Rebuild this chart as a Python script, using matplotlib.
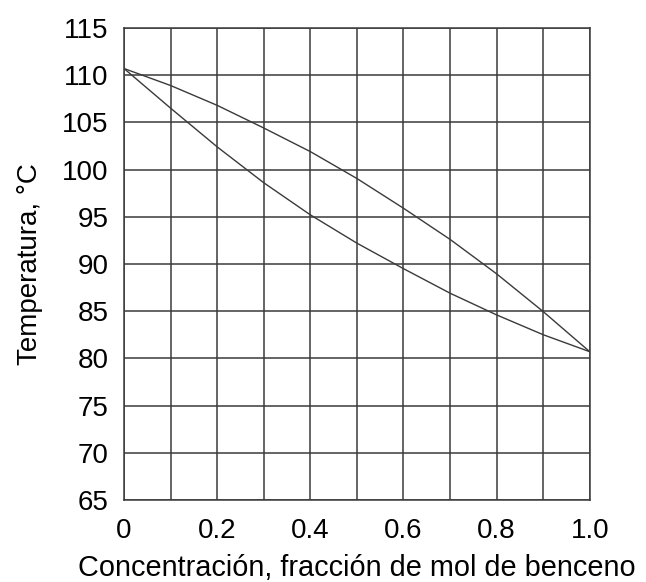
import matplotlib
matplotlib.use('Agg')
import matplotlib.pyplot as plt

plt.rcParams['font.family'] = ['Liberation Sans', 'DejaVu Sans']

# fraccion molar de benceno
x = [0.0, 0.1, 0.2, 0.3, 0.4, 0.5, 0.6, 0.7, 0.8, 0.9, 1.0]
# curva inferior (liquido saturado)
t_liq = [110.7, 106.5, 102.4, 98.6, 95.2, 92.2, 89.5, 86.9, 84.6, 82.5, 80.7]
# curva superior (vapor saturado)
t_vap = [110.7, 108.9, 106.8, 104.4, 101.9, 99.05, 95.9, 92.6, 88.95, 84.95, 80.7]

xticks = [0, 0.2, 0.4, 0.6, 0.8, 1.0]
xticklabels = ['0', '0.2', '0.4', '0.6', '0.8', '1.0']
yticks = list(range(65, 116, 5))

fig = plt.figure(figsize=(6.46, 5.82), dpi=100)
ax = fig.add_axes([0.192, 0.141, 0.721, 0.811])

for xv in [i / 10 for i in range(11)]:
    ax.axvline(xv, color='#3a3a3a', lw=1.1, zorder=1)
for yv in yticks:
    ax.axhline(yv, color='#3a3a3a', lw=1.1, zorder=1)

ax.plot(x, t_liq, color='#3a3a3a', lw=1.0, zorder=2)
ax.plot(x, t_vap, color='#3a3a3a', lw=1.0, zorder=2)

ax.set_xlim(0, 1.0)
ax.set_ylim(65, 115)
ax.set_xticks(xticks)
ax.set_xticklabels(xticklabels)
ax.set_yticks(yticks)
ax.tick_params(length=0, labelsize=20)
ax.tick_params(axis='x', pad=13)
ax.tick_params(axis='y', pad=11)
for s in ax.spines.values():
    s.set_color('#3a3a3a')
    s.set_linewidth(1.1)

ax.set_xlabel('Concentración, fracción de mol de benceno', fontsize=20.8, labelpad=7)
ax.set_ylabel('Temperatura, °C', fontsize=20, labelpad=14)

fig.savefig('out.png', dpi=100)
